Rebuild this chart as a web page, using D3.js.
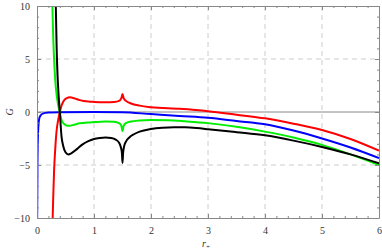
<!DOCTYPE html>
<html>
<head>
<meta charset="utf-8">
<script src="https://cdnjs.cloudflare.com/ajax/libs/d3/7.8.5/d3.min.js"></script>
<style>
body { margin: 0; background: #fff; }
text { font-family: "Liberation Serif", "DejaVu Serif", serif; }
</style>
</head>
<body>
<script>
// values
var rBlack = [0.33,0.345,0.36,0.38,0.40,0.43,0.46,0.50,0.55,0.60,0.70,0.80,0.90,1.00,1.10,1.20,1.30,1.38,1.44,1.47,1.49,1.50,1.51,1.53,1.56,1.62,1.70,1.80,2.00,2.20,2.40,2.60,2.80,3.00,3.50,4.00,4.50,5.00,5.50,6.00];
var gBlack = [10,6,3.5,1.5,0,-2.3,-3.2,-3.8,-4.0,-3.9,-3.5,-3.05,-2.75,-2.55,-2.45,-2.4,-2.45,-2.6,-2.9,-3.3,-3.9,-4.8,-3.9,-3.2,-2.8,-2.4,-2.1,-1.85,-1.6,-1.48,-1.43,-1.45,-1.52,-1.62,-1.9,-2.2,-2.7,-3.3,-4.0,-4.85];

var rGreen = [0.27,0.285,0.30,0.32,0.35,0.37,0.40,0.43,0.47,0.52,0.57,0.65,0.75,0.90,1.00,1.20,1.35,1.44,1.48,1.50,1.52,1.56,1.65,1.80,2.00,2.30,2.60,3.00,3.50,4.00,4.50,5.00,5.50,6.00];
var gGreen = [10,7,5,3,1.4,0.7,0,-0.75,-1.1,-1.28,-1.3,-1.2,-1.07,-0.98,-0.95,-0.9,-0.92,-1.05,-1.3,-1.8,-1.3,-1.05,-0.9,-0.8,-0.75,-0.78,-0.88,-1.05,-1.4,-1.85,-2.4,-3.1,-4.0,-5.0];

var rRed = [0.275,0.285,0.30,0.32,0.345,0.37,0.40,0.43,0.46,0.52,0.58,0.65,0.75,0.90,1.00,1.20,1.35,1.44,1.48,1.50,1.52,1.56,1.65,1.80,2.00,2.50,3.00,3.50,4.00,4.50,5.00,5.50,6.00];
var gRed = [-10,-8,-5.5,-3.5,-1.7,-0.8,0,0.6,0.97,1.3,1.38,1.3,1.12,0.98,0.95,0.92,0.95,1.05,1.3,1.7,1.3,1.05,0.8,0.6,0.45,0.3,0.08,-0.25,-0.6,-1.1,-1.7,-2.55,-3.65];

var rBlue = [0.003,0.008,0.015,0.025,0.04,0.06,0.1,0.2,0.4,1.0,1.5,2.0,2.5,3.0,3.5,4.0,4.5,5.0,5.5,6.0];
var gBlue = [-10,-5,-2.5,-1.3,-0.6,-0.35,-0.15,-0.05,-0.02,0,-0.02,-0.2,-0.38,-0.55,-0.85,-1.16,-1.75,-2.5,-3.35,-4.35];

var xTicks = [0,1,2,3,4,5,6];
var yTicks = [-10,-5,0,5,10];

var series = [
  {r: rBlue, g: gBlue, color: "#0000ff"},
  {r: rRed, g: gRed, color: "#ff0000"},
  {r: rGreen, g: gGreen, color: "#00ee00"},
  {r: rBlack, g: gBlack, color: "#000000"}
];

var margin = {top: 6, right: 3, bottom: 32, left: 37},
    width = 382 - margin.left - margin.right,
    height = 250 - margin.top - margin.bottom;

var x = d3.scaleLinear().domain([0, 6]).range([0, width]);
var y = d3.scaleLinear().domain([-10, 10]).range([height, 0]);

var svg = d3.select("body").append("svg")
    .attr("width", 382)
    .attr("height", 250)
  .append("g")
    .attr("transform", "translate(" + margin.left + "," + margin.top + ")");

svg.append("defs").append("clipPath").attr("id", "clip")
  .append("rect").attr("width", width).attr("height", height);

// dashed grid
svg.selectAll(".gx").data([1,2,3,4,5]).enter().append("line")
    .attr("x1", d => x(d)).attr("x2", d => x(d))
    .attr("y1", 0).attr("y2", height)
    .attr("stroke", "#cccccc").attr("stroke-dasharray", "5,4");
svg.selectAll(".gy").data([-5,5]).enter().append("line")
    .attr("x1", 0).attr("x2", width)
    .attr("y1", d => y(d)).attr("y2", d => y(d))
    .attr("stroke", "#cccccc").attr("stroke-dasharray", "5,4");

// zero line
svg.append("line")
    .attr("x1", 0).attr("x2", width)
    .attr("y1", y(0)).attr("y2", y(0))
    .attr("stroke", "#888").attr("stroke-width", 1);

// curves
var lineGen = d3.line().x(d => x(d[0])).y(d => y(d[1])).curve(d3.curveMonotoneX);

svg.append("g").attr("clip-path", "url(#clip)")
  .selectAll("path").data(series).enter().append("path")
    .attr("d", s => lineGen(s.r.map((v, i) => [v, s.g[i]])))
    .attr("fill", "none")
    .attr("stroke", s => s.color)
    .attr("stroke-width", 2);

// frame with inward ticks
function styleAxis(g) {
  g.selectAll(".domain").attr("stroke", "#888");
  g.selectAll(".tick line").attr("stroke", "#888");
  g.selectAll("text").attr("fill", "#333").style("font-size", "10px")
    .style("font-family", "'Liberation Serif', serif");
}

var xMinor = d3.range(0, 6.001, 0.2);
var yMinor = d3.range(-10, 10.001, 1);

var axBottom = svg.append("g").attr("transform", "translate(0," + height + ")");
axBottom.call(d3.axisBottom(x).tickValues(xMinor).tickSize(-2).tickFormat("").tickSizeOuter(0));
axBottom.append("g").call(d3.axisBottom(x).tickValues(xTicks).tickSize(-4).tickSizeOuter(0).tickPadding(9).tickFormat(d3.format("d")))
  .call(g => g.select(".domain").remove());
styleAxis(axBottom);

var axTop = svg.append("g");
axTop.call(d3.axisTop(x).tickValues(xMinor).tickSize(-2).tickFormat("").tickSizeOuter(0));
axTop.append("g").call(d3.axisTop(x).tickValues(xTicks).tickSize(-4).tickFormat("").tickSizeOuter(0))
  .call(g => g.select(".domain").remove());
styleAxis(axTop);

var axLeft = svg.append("g");
axLeft.call(d3.axisLeft(y).tickValues(yMinor).tickSize(-2).tickFormat("").tickSizeOuter(0));
axLeft.append("g").call(d3.axisLeft(y).tickValues(yTicks).tickSize(-4).tickSizeOuter(0).tickPadding(7)
    .tickFormat(d => d < 0 ? "\u2212" + Math.abs(d) : d))
  .call(g => g.select(".domain").remove());
styleAxis(axLeft);

var axRight = svg.append("g").attr("transform", "translate(" + width + ",0)");
axRight.call(d3.axisRight(y).tickValues(yMinor).tickSize(-2).tickFormat("").tickSizeOuter(0));
axRight.append("g").call(d3.axisRight(y).tickValues(yTicks).tickSize(-4).tickFormat("").tickSizeOuter(0))
  .call(g => g.select(".domain").remove());
styleAxis(axRight);

// axis labels
svg.append("text")
    .attr("transform", "translate(" + (-28) + "," + y(0) + ") rotate(-90)")
    .attr("text-anchor", "middle")
    .attr("dy", "0.35em")
    .style("font-size", "10px").style("font-style", "italic")
    .attr("fill", "#333")
    .text("G");

var xl = svg.append("text")
    .attr("x", width / 2 - 2)
    .attr("y", height + 29)
    .attr("text-anchor", "middle")
    .style("font-size", "10px")
    .attr("fill", "#333");
xl.append("tspan").style("font-style", "italic").text("r");
xl.append("tspan").attr("dy", 2).style("font-size", "7px").text("+");
</script>
</body>
</html>
